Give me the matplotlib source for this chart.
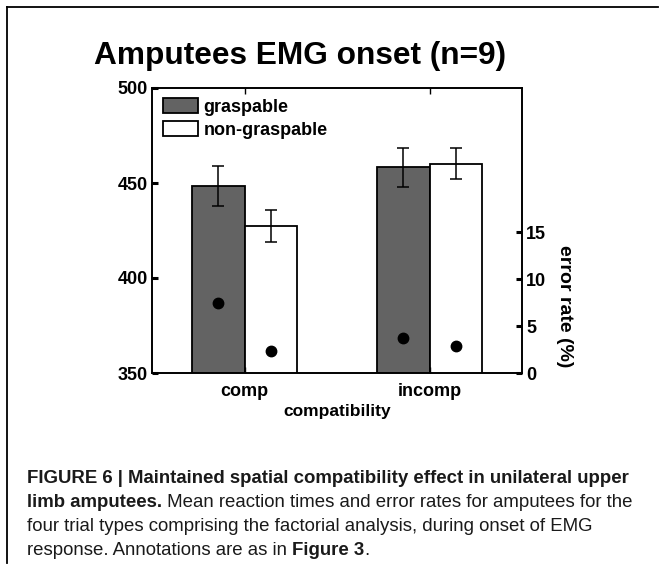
import matplotlib
matplotlib.use("Agg")
import matplotlib.pyplot as plt
from matplotlib.patches import Patch
from matplotlib.lines import Line2D
import numpy as np

# data
categories = ["comp", "incomp"]
series_names = ["graspable", "non-graspable"]
rt_graspable = [448.6, 458.2]
rt_nongraspable = [427.5, 460.2]
rt_sem_graspable = [10.5, 10.3]
rt_sem_nongraspable = [8.4, 8.3]
errrate_graspable = [7.5, 3.7]
errrate_nongraspable = [2.3, 2.9]
rt_ticks = [350, 400, 450, 500]
errrate_ticks = [0, 5, 10, 15]

title = "Amputees EMG onset (n=9)"
caption_lines = [
    [("FIGURE 6 | Maintained spatial compatibility effect in unilateral upper", "bold")],
    [("limb amputees.", "bold"),
     (" Mean reaction times and error rates for amputees for the", "normal")],
    [("four trial types comprising the factorial analysis, during onset of EMG", "normal")],
    [("response. Annotations are as in ", "normal"), ("Figure 3", "bold"), (".", "normal")],
]

W, H = 659, 571
DARK = "#636363"

plt.rcParams["font.family"] = ["Liberation Sans", "DejaVu Sans"]


def fx(px):
    return px / W


def fy(py):
    return 1 - py / H


fig = plt.figure(figsize=(W / 100, H / 100), dpi=100)
ax = fig.add_axes([fx(152), fy(373), fx(522) - fx(152), fy(88) - fy(373)])
ax2 = ax.twinx()

x = np.arange(1, len(categories) + 1)
w = 0.285
ekw = dict(ecolor="black", elinewidth=1.1, capsize=4, capthick=1.1)
ax.bar(x - w / 2, rt_graspable, w, color=DARK, edgecolor="black", linewidth=1.3,
       yerr=rt_sem_graspable, error_kw=ekw)
ax.bar(x + w / 2, rt_nongraspable, w, color="white", edgecolor="black", linewidth=1.3,
       yerr=rt_sem_nongraspable, error_kw=ekw)

ax.set_xlim(0.5, 2.5)
ax.set_ylim(350, 500)
ax.set_yticks(rt_ticks)
ax.set_xticks(x)
ax.set_xticklabels(categories)
ax.tick_params(axis="y", direction="in", length=4.5, width=2.2, labelsize=13, pad=3, right=False)
ax.tick_params(axis="x", direction="in", length=4, width=1, labelsize=13, pad=7, top=True)
for lbl in ax.get_xticklabels() + ax.get_yticklabels():
    lbl.set_fontweight("bold")
ax.set_xlabel("compatibility", fontsize=12.5, fontweight="bold", labelpad=3)
for sp in ax.spines.values():
    sp.set_linewidth(1.2)

ax2.plot(x - w / 2, errrate_graspable, "o", color="black", ms=7.5)
ax2.plot(x + w / 2, errrate_nongraspable, "o", color="black", ms=7.5)
ax2.set_ylim(0, 30.4)
ax2.set_yticks(errrate_ticks)
ax2.tick_params(axis="y", direction="in", length=4.5, width=2.2, labelsize=13, pad=3)
for lbl in ax2.get_yticklabels():
    lbl.set_fontweight("bold")
ax2.set_ylabel("error rate (%)", fontsize=14, fontweight="bold", rotation=270)
ax2.yaxis.set_label_coords((573 - 152) / 370, (373 - 306) / 285)
for sp in ax2.spines.values():
    sp.set_linewidth(1.2)

handles = [Patch(facecolor=DARK, edgecolor="black", linewidth=1.3),
           Patch(facecolor="white", edgecolor="black", linewidth=1.3)]
ax2.legend(handles, series_names, loc="upper left", frameon=False,
           bbox_to_anchor=(fx(161), fy(96)), bbox_transform=fig.transFigure,
           borderaxespad=0, borderpad=0.1, handlelength=1.95, handleheight=0.9,
           handletextpad=0.3, labelspacing=0.3,
           prop=dict(size=13, weight="bold"))

fig.text(fx(300), fy(56), title, ha="center", va="center", fontsize=22.8,
         fontweight="bold")

# caption, drawn segment by segment so bold and normal runs sit on one line
renderer = fig.canvas.get_renderer()
baselines = [483, 507, 531, 555]
for segs, base in zip(caption_lines, baselines):
    xpos = fx(27)
    for txt, weight in segs:
        t = fig.text(xpos, fy(base), txt, ha="left", va="baseline", fontsize=13.4,
                     fontweight=weight, color="#1a1a1a")
        bb = t.get_window_extent(renderer)
        xpos = bb.x1 / W

# frame lines at the top and left of the panel
fig.add_artist(Line2D([fx(7), fx(658)], [fy(7), fy(7)], color="black", lw=1.3))
fig.add_artist(Line2D([fx(7), fx(7)], [fy(7), fy(563)], color="black", lw=1.3))

fig.savefig("out.png", dpi=100)
